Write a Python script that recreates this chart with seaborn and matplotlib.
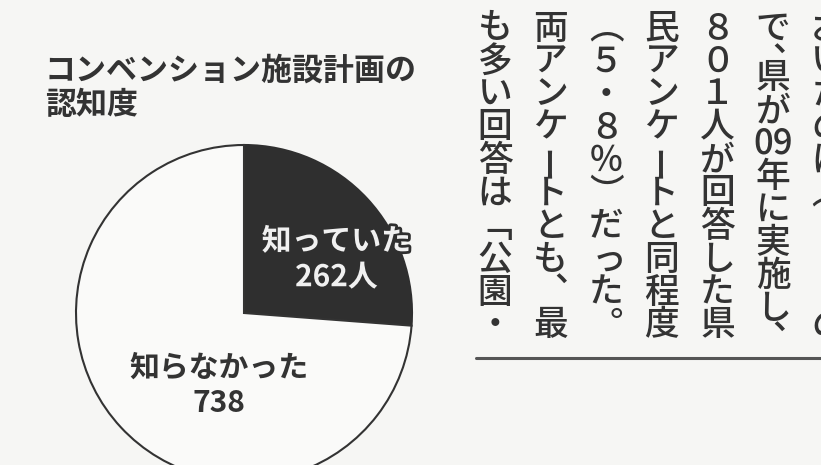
import matplotlib
matplotlib.use("Agg")
import matplotlib.pyplot as plt
import matplotlib.patheffects as pe
import seaborn as sns

# ---- data ----
title_lines = ["コンベンション施設計画の", "認知度"]
categories = ["知っていた", "知らなかった"]
counts = [262, 738]
label_texts = ["知っていた\n262人", "知らなかった\n738"]

# article columns (vertical text, right to left)
article_columns = [
    ["お", "い", "た", "の", "は", "（", "", "", "、", "の"],
    ["で", "、", "県", "が", "09", "年", "に", "実", "施", "し", "、"],
    ["８", "０", "１", "人", "が", "回", "答", "し", "た", "県"],
    ["民", "ア", "ン", "ケ", "ー", "ト", "と", "同", "程", "度"],
    ["（", "５", "・", "８", "％", "）", "だ", "っ", "た", "。"],
    ["両", "ア", "ン", "ケ", "ー", "ト", "と", "も", "、", "最"],
    ["も", "多", "い", "回", "答", "は", "「", "公", "園", "・"],
]

# ---- style ----
sns.set_theme(style="white")
plt.rcParams["font.family"] = ["Noto Sans CJK JP", "DejaVu Sans"]

W, H = 821, 465
BG = "#f6f6f4"
INK = "#333333"
DARK = "#2f2f2f"

fig = plt.figure(figsize=(W / 100, H / 100), dpi=100, facecolor=BG)


def fx(x):
    return x / W


def fy(y):
    return 1 - y / H


# title
fig.text(fx(45), fy(71), title_lines[0], ha="left", va="center",
         fontsize=22.3, fontweight="bold", color=INK)
fig.text(fx(45), fy(105), title_lines[1], ha="left", va="center",
         fontsize=22.3, fontweight="bold", color=INK)

# pie
cx, cy, r = 244, 313, 168
ax = fig.add_axes([fx(cx - r), (H - cy - r) / H, 2 * r / W, 2 * r / H])
ax.set_facecolor("none")
palette = sns.color_palette([DARK, "#fafaf9"])
wedges, _ = ax.pie(counts, colors=palette, startangle=90, counterclock=False,
                   wedgeprops=dict(edgecolor=INK, linewidth=1.5))
for w in wedges:
    w.set_clip_on(False)
wedges[0].set_edgecolor(DARK)
ax.set_xlim(-1, 1)
ax.set_ylim(-1, 1)
ax.axis("off")

ax.text(0.55, 0.32, label_texts[0], ha="center", va="center", fontsize=21.5,
        fontweight="bold", color="#f0f0f0", linespacing=1.25,
        path_effects=[pe.withStroke(linewidth=4, foreground=DARK)])
ax.text(-0.15, -0.43, label_texts[1], ha="center", va="center", fontsize=21.5,
        fontweight="bold", color=INK, linespacing=1.25)

# article text (vertical), one text per character cell
vert_map = {"（": "\ufe35", "）": "\ufe36", "「": "\ufe41", "、": "\ufe11",
            "。": "\ufe12"}
col_x0 = 828.6
col_step = 55.6
top, bottom = 12, 342
fs = 25
for i, col in enumerate(article_columns):
    x = col_x0 - i * col_step
    n_full = 10
    squeeze = len(col) > n_full
    weights = [0.5 if (squeeze and c in ("、", "。")) else 1.0 for c in col]
    pitch = (bottom - top) / max(sum(weights), n_full)
    y = top
    for k, (c, wgt) in enumerate(zip(col, weights)):
        yc = y + pitch * wgt / 2
        y += pitch * wgt
        if not c:
            continue
        rot = 0
        ch = vert_map.get(c, c)
        dx, dy = 0, 0
        if c == "ー":
            rot = 90
        if wgt < 1:
            dx, dy = (-4, 7) if k == len(col) - 1 else (-4, 10)
        if c == "っ":
            dx = 3
        fig.text(fx(x + dx), fy(yc + dy), ch, ha="center", va="center",
                 fontsize=fs, color=INK, rotation=rot,
                 rotation_mode="anchor", fontweight="medium")

# rule under article
fig.add_artist(plt.Line2D([fx(476), fx(821)], [fy(358), fy(358)],
                          color="#555555", linewidth=2.2))

fig.savefig("out.png", dpi=100, facecolor=BG)
